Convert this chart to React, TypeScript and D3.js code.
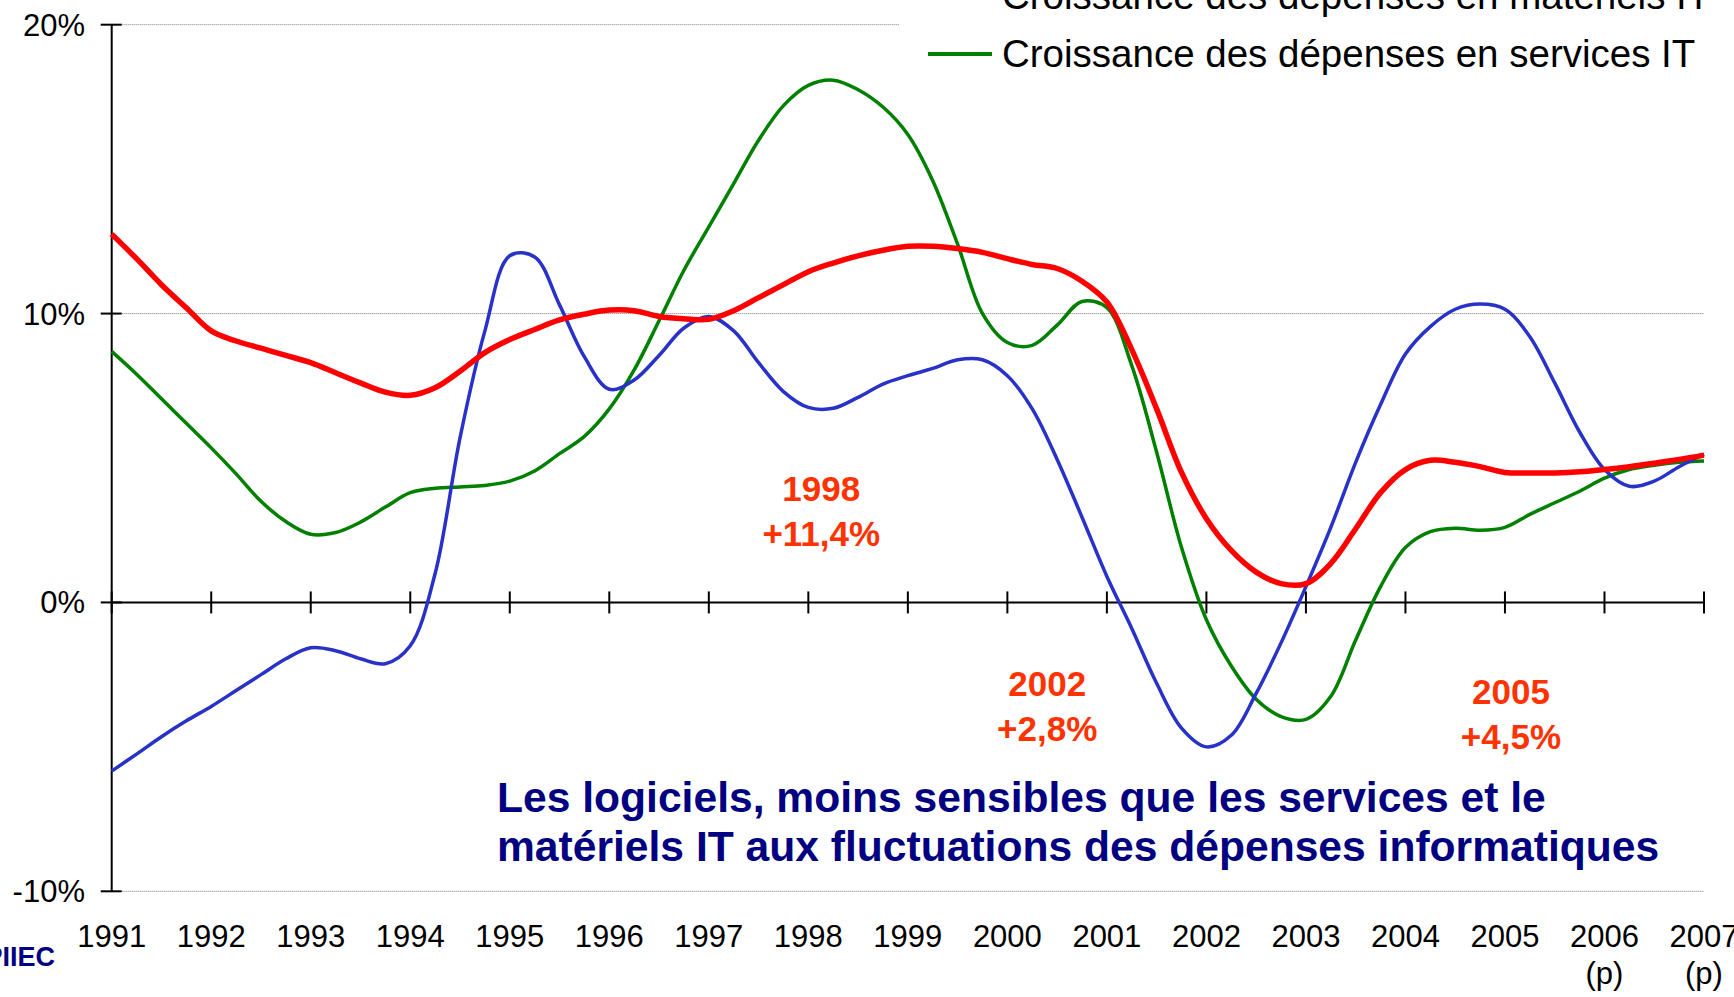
import React from "react";
import * as d3 from "d3";

// quarterly growth rates (%), 1991 Q1 .. 2007 Q1
const logiciels = [
  12.75, 11.9, 11.0, 10.2, 9.4, 9.05, 8.8, 8.55, 8.3, 7.95, 7.6, 7.28, 7.17,
  7.43, 8.0, 8.65, 9.1, 9.45, 9.78, 9.98, 10.12, 10.1, 9.9, 9.82, 9.8, 10.1,
  10.55, 11.0, 11.45, 11.75, 12.0, 12.19, 12.33, 12.33, 12.25, 12.12, 11.9,
  11.7, 11.56, 11.12, 10.4, 8.75, 6.7, 4.5, 2.9, 1.8, 1.05, 0.65, 0.65, 1.35,
  2.55, 3.8, 4.6, 4.92, 4.85, 4.7, 4.5, 4.48, 4.48, 4.52, 4.6, 4.7, 4.82, 4.95,
  5.1,
];
const materiels = [
  -5.84, -5.25, -4.65, -4.1, -3.6, -3.05, -2.5, -1.95, -1.57, -1.67, -1.95,
  -2.12, -1.5, 1.0, 5.7, 9.4, 12.0, 11.96, 10.3, 8.5, 7.38, 7.7, 8.55, 9.5, 9.9,
  9.4, 8.3, 7.3, 6.75, 6.72, 7.1, 7.56, 7.85, 8.1, 8.4, 8.4, 7.85, 6.7, 4.95,
  2.95, 0.9, -0.9, -2.8, -4.35, -5.0, -4.6, -3.15, -1.4, 0.55, 2.6, 4.85, 6.85,
  8.6, 9.55, 10.15, 10.33, 10.15, 9.2, 7.6, 5.9, 4.6, 4.02, 4.2, 4.7, 5.13,
];
const services = [
  8.69, 7.9, 7.05, 6.2, 5.35, 4.45, 3.5, 2.8, 2.36, 2.42, 2.78, 3.3, 3.8, 3.95,
  4.0, 4.05, 4.2, 4.55, 5.15, 5.75, 6.7, 8.05, 9.75, 11.5, 13.0, 14.5, 16.0,
  17.2, 17.9, 18.08, 17.75, 17.15, 16.2, 14.6, 12.4, 10.0, 9.0, 8.9, 9.6, 10.42,
  10.2, 8.2, 5.2, 1.9, -0.6, -2.2, -3.35, -3.95, -4.05, -3.25, -1.3, 0.55, 1.9,
  2.45, 2.57, 2.5, 2.6, 3.05, 3.45, 3.85, 4.3, 4.6, 4.75, 4.85, 4.9,
];
const quarters = logiciels.map((_, i) => 1991 + i / 4);

const years = [
  1991, 1992, 1993, 1994, 1995, 1996, 1997, 1998, 1999, 2000, 2001, 2002, 2003,
  2004, 2005, 2006, 2007,
];
const forecastYears = [2006, 2007];
const pctTicks = [-10, 0, 10, 20];
const gridTicks = [-10, 10, 20];

const seriesNames = [
  "Croissance des dépenses en logiciels",
  "Croissance des dépenses en matériels IT",
  "Croissance des dépenses en services IT",
];
const seriesColors = ["#ff0000", "#2832c8", "#008000"];
const seriesWidths = [5.5, 3.5, 3.5];

// annual software growth callouts, placed in data coordinates
const callouts = [
  { year: "1998", value: "+11,4%", at: 1998.13, level: 3.5 },
  { year: "2002", value: "+2,8%", at: 2000.4, level: -3.25 },
  { year: "2005", value: "+4,5%", at: 2005.06, level: -3.5 },
];
const message = [
  "Les logiciels, moins sensibles que les services et le",
  "matériels IT aux fluctuations des dépenses informatiques",
];

const FONT = "'Liberation Sans', Arial, Helvetica, sans-serif";

export default function App() {
  const W = 1734;
  const H = 997;
  const x = d3.scaleLinear().domain([1991, 2007]).range([111.7, 1704]);
  const y = d3.scaleLinear().domain([-10, 20]).range([891.3, 24.7]);
  const x0 = x(1991);
  const x1 = x(2007);

  const mkLine = d3
    .line<number>()
    .x((_, i) => x(quarters[i]))
    .y((d) => y(d))
    .curve(d3.curveCatmullRom.alpha(0.5));

  const allSeries = [logiciels, materiels, services];
  const drawOrder = [2, 1, 0];

  return (
    <svg
      width={W}
      height={H}
      style={{ position: "absolute", left: 0, top: 0, background: "#fff" }}
      fontFamily={FONT}
    >
      {/* dotted gridlines */}
      {gridTicks.map((t) => (
        <line
          key={t}
          x1={x0}
          x2={x1}
          y1={y(t)}
          y2={y(t)}
          stroke="#777"
          strokeWidth={1}
          strokeDasharray="1,1"
        />
      ))}

      {/* y axis */}
      <line x1={x0} x2={x0} y1={y(20)} y2={y(-10)} stroke="#000" strokeWidth={2} />
      {pctTicks.map((t) => (
        <g key={t}>
          <line x1={x0 - 11} x2={x0 + 10} y1={y(t)} y2={y(t)} stroke="#000" strokeWidth={2} />
          <text x={85} y={y(t) + 11} textAnchor="end" fontSize={31} fill="#000">
            {t}%
          </text>
        </g>
      ))}

      {/* x axis at 0% */}
      <line x1={x0} x2={x1} y1={y(0)} y2={y(0)} stroke="#000" strokeWidth={2} />
      {years.map((yr) => (
        <g key={yr}>
          <line x1={x(yr)} x2={x(yr)} y1={y(0) - 11} y2={y(0) + 11} stroke="#000" strokeWidth={2} />
          <text x={x(yr)} y={947} textAnchor="middle" fontSize={31} fill="#000">
            {yr}
          </text>
          {forecastYears.includes(yr) && (
            <text x={x(yr)} y={984} textAnchor="middle" fontSize={31} fill="#000">
              (p)
            </text>
          )}
        </g>
      ))}

      {/* series */}
      {drawOrder.map((i) => (
        <path
          key={i}
          d={mkLine(allSeries[i]) || ""}
          fill="none"
          stroke={seriesColors[i]}
          strokeWidth={seriesWidths[i]}
          strokeLinejoin="round"
        />
      ))}

      {/* legend (partly above the visible area) */}
      <rect x={899} y={-200} width={W - 899} height={285} fill="#fff" />
      {seriesNames.map((name, i) => {
        const base = -50 + i * 58.5;
        return (
          <g key={name}>
            <line x1={928} x2={992} y1={base - 13} y2={base - 13} stroke={seriesColors[i]} strokeWidth={4} />
            <text x={1002} y={base} fontSize={38.5} fill="#000">
              {name}
            </text>
          </g>
        );
      })}

      {/* callouts */}
      {callouts.map((c) => (
        <g key={c.year} fill="#ff3300" fontWeight="bold" fontSize={35} textAnchor="middle">
          <text x={x(c.at)} y={y(c.level)}>
            {c.year}
          </text>
          <text x={x(c.at)} y={y(c.level) + 45}>
            {c.value}
          </text>
        </g>
      ))}

      {message.map((m, i) => (
        <text key={i} x={497} y={812 + i * 49} fontSize={42.6} fontWeight="bold" fill="#000080">
          {m}
        </text>
      ))}

      <text x={55} y={966} textAnchor="end" fontSize={27} fontWeight="bold" fill="#000080">
        PIIEC
      </text>
    </svg>
  );
}
